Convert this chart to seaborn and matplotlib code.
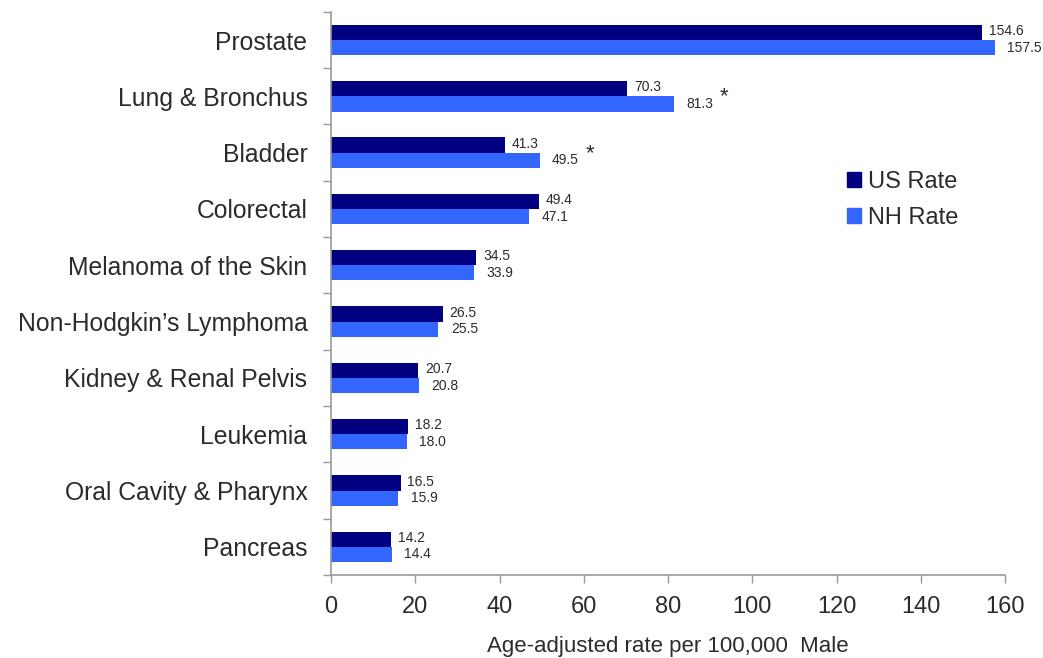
import numpy as np
import pandas as pd
import matplotlib
matplotlib.use("Agg")
import matplotlib.pyplot as plt
from matplotlib.patches import Patch
from matplotlib.ticker import FixedLocator
import seaborn as sns

# data (age-adjusted rate per 100,000, male)
sites = ["Prostate", "Lung & Bronchus", "Bladder", "Colorectal",
         "Melanoma of the Skin", "Non-Hodgkin\u2019s Lymphoma",
         "Kidney & Renal Pelvis", "Leukemia", "Oral Cavity & Pharynx", "Pancreas"]
us_rate = [154.6, 70.3, 41.3, 49.4, 34.5, 26.5, 20.7, 18.2, 16.5, 14.2]
nh_rate = [157.5, 81.3, 49.5, 47.1, 33.9, 25.5, 20.8, 18.0, 15.9, 14.4]
nh_star = [False, True, True, False, False, False, False, False, False, False]
series = ["US Rate", "NH Rate"]
colors = ["#000080", "#3366FF"]
x_ticks = [0, 20, 40, 60, 80, 100, 120, 140, 160]

df = pd.DataFrame({
    "site": sites * 2,
    "rate": us_rate + nh_rate,
    "series": [series[0]] * len(sites) + [series[1]] * len(sites),
})

sns.set_style("white")
plt.rcParams["font.family"] = ["Liberation Sans", "DejaVu Sans"]
txt = "#2b2b2b"
axc = "#999999"

fig, ax = plt.subplots(figsize=(10.43, 6.58), dpi=100)
fig.subplots_adjust(left=0.3174, right=0.9636, bottom=0.1261, top=0.982)

sns.barplot(data=df, y="site", x="rate", hue="series", order=sites,
            hue_order=series, palette=colors, orient="h", width=0.54,
            dodge=True, saturation=1, ax=ax, legend=False, linewidth=0)

# value labels
for i, (u, n) in enumerate(zip(us_rate, nh_rate)):
    ax.annotate(f"{u:.1f}", xy=(u, i - 0.135), xytext=(5, 1), textcoords="offset points",
                ha="left", va="center", fontsize=10, color=txt)
    ax.annotate(f"{n:.1f}", xy=(n, i + 0.135), xytext=(9, 0), textcoords="offset points",
                ha="left", va="center", fontsize=10, color=txt)
    if nh_star[i]:
        ax.annotate("*", xy=(n, i + 0.135), xytext=(33, 5), textcoords="offset points",
                    ha="left", va="center", fontsize=16, color=txt)

ax.set_xlim(0, 160)
ax.set_ylim(len(sites) - 0.5, -0.5)
ax.set_xticks(x_ticks)
ax.set_xticklabels([str(t) for t in x_ticks])
ax.yaxis.set_minor_locator(FixedLocator(np.arange(-0.5, len(sites), 1.0)))

ax.tick_params(axis="x", which="major", direction="out", length=6, width=1,
               color=axc, labelsize=17, labelcolor=txt, pad=9, bottom=True)
ax.tick_params(axis="y", which="major", length=0, labelsize=17.8, labelcolor=txt, pad=17)
ax.tick_params(axis="y", which="minor", direction="out", length=6, width=1,
               color=axc, left=True)

ax.set_xlabel("Age-adjusted rate per 100,000  Male", fontsize=16, color=txt, labelpad=13)
ax.set_ylabel("")

sns.despine(ax=ax, top=True, right=True)
for s in ["left", "bottom"]:
    ax.spines[s].set_color(axc)
    ax.spines[s].set_linewidth(1.2)

handles = [Patch(facecolor=c, edgecolor=c) for c in colors]
ax.legend(handles, series, loc="upper left", bbox_to_anchor=(0.734, 0.756), frameon=False,
          fontsize=17, handlelength=0.6, handleheight=0.6, handletextpad=0.3,
          labelspacing=0.6, labelcolor=txt)

fig.savefig("out.png", dpi=100)
